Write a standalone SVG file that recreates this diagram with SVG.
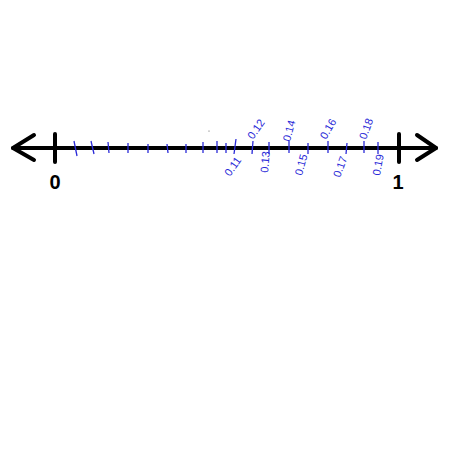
<svg xmlns="http://www.w3.org/2000/svg" width="450" height="450" viewBox="0 0 450 450">
<style>
.axis{stroke:#000;stroke-width:4;fill:none;stroke-linecap:round;stroke-linejoin:round}
.tk{stroke:#2a2ad8;stroke-width:1.3;fill:none}
.lbl{font-family:"Liberation Sans",Arial,sans-serif;font-size:11px;fill:#2a2ad8}
.num{font-family:"Liberation Sans",Arial,sans-serif;font-size:20px;font-weight:bold;fill:#000}
</style>
<rect width="450" height="450" fill="#fff"/>
<g id="connectors">
<line class="axis" x1="13" y1="148" x2="436" y2="148"/>
<polyline class="axis" points="34,135 13,148 34,160"/>
<polyline class="axis" points="417,135 436,148 417,160"/>
<line class="axis" x1="55" y1="134" x2="55" y2="162"/>
<line class="axis" x1="399" y1="134" x2="399" y2="162"/>
</g>
<g id="ticks">
<line class="tk" x1="74" y1="141" x2="77" y2="156"/>
<line class="tk" x1="91" y1="141" x2="94" y2="154"/>
<line class="tk" x1="108" y1="142" x2="109" y2="153"/>
<line class="tk" x1="128" y1="143" x2="128" y2="153"/>
<line class="tk" x1="148" y1="144" x2="148" y2="153"/>
<line class="tk" x1="167" y1="144" x2="168" y2="153"/>
<line class="tk" x1="186" y1="144" x2="186" y2="153"/>
<line class="tk" x1="203" y1="142" x2="203" y2="153"/>
<line class="tk" x1="217" y1="141" x2="217" y2="153"/>
<line class="tk" x1="226" y1="143" x2="226" y2="153"/>
<line class="tk" x1="236" y1="139" x2="234" y2="154"/>
<line class="tk" x1="253" y1="141" x2="252" y2="154"/>
<line class="tk" x1="269" y1="142" x2="269" y2="154"/>
<line class="tk" x1="289" y1="141" x2="289" y2="153"/>
<line class="tk" x1="308" y1="143" x2="308" y2="154"/>
<line class="tk" x1="328" y1="141" x2="328" y2="153"/>
<line class="tk" x1="347" y1="143" x2="346" y2="154"/>
<line class="tk" x1="364" y1="141" x2="364" y2="153"/>
<line class="tk" x1="378" y1="142" x2="378" y2="154"/>
<circle cx="209" cy="131" r="0.6" fill="#555"/>
</g>
<g id="labels">
<text class="lbl" transform="translate(230,177) rotate(-55)">0.11</text>
<text class="lbl" transform="translate(253,140) rotate(-55)">0.12</text>
<text class="lbl" transform="translate(268,173) rotate(-85)">0.13</text>
<text class="lbl" transform="translate(290,142) rotate(-75)">0.14</text>
<text class="lbl" transform="translate(302,176) rotate(-75)">0.15</text>
<text class="lbl" transform="translate(326,140) rotate(-60)">0.16</text>
<text class="lbl" transform="translate(340,178) rotate(-70)">0.17</text>
<text class="lbl" transform="translate(366,140) rotate(-70)">0.18</text>
<text class="lbl" transform="translate(380,176) rotate(-80)">0.19</text>
</g>
<g id="n0"><text class="num" x="55" y="189" text-anchor="middle">0</text></g>
<g id="n1"><text class="num" x="398" y="189" text-anchor="middle">1</text></g>
</svg>
